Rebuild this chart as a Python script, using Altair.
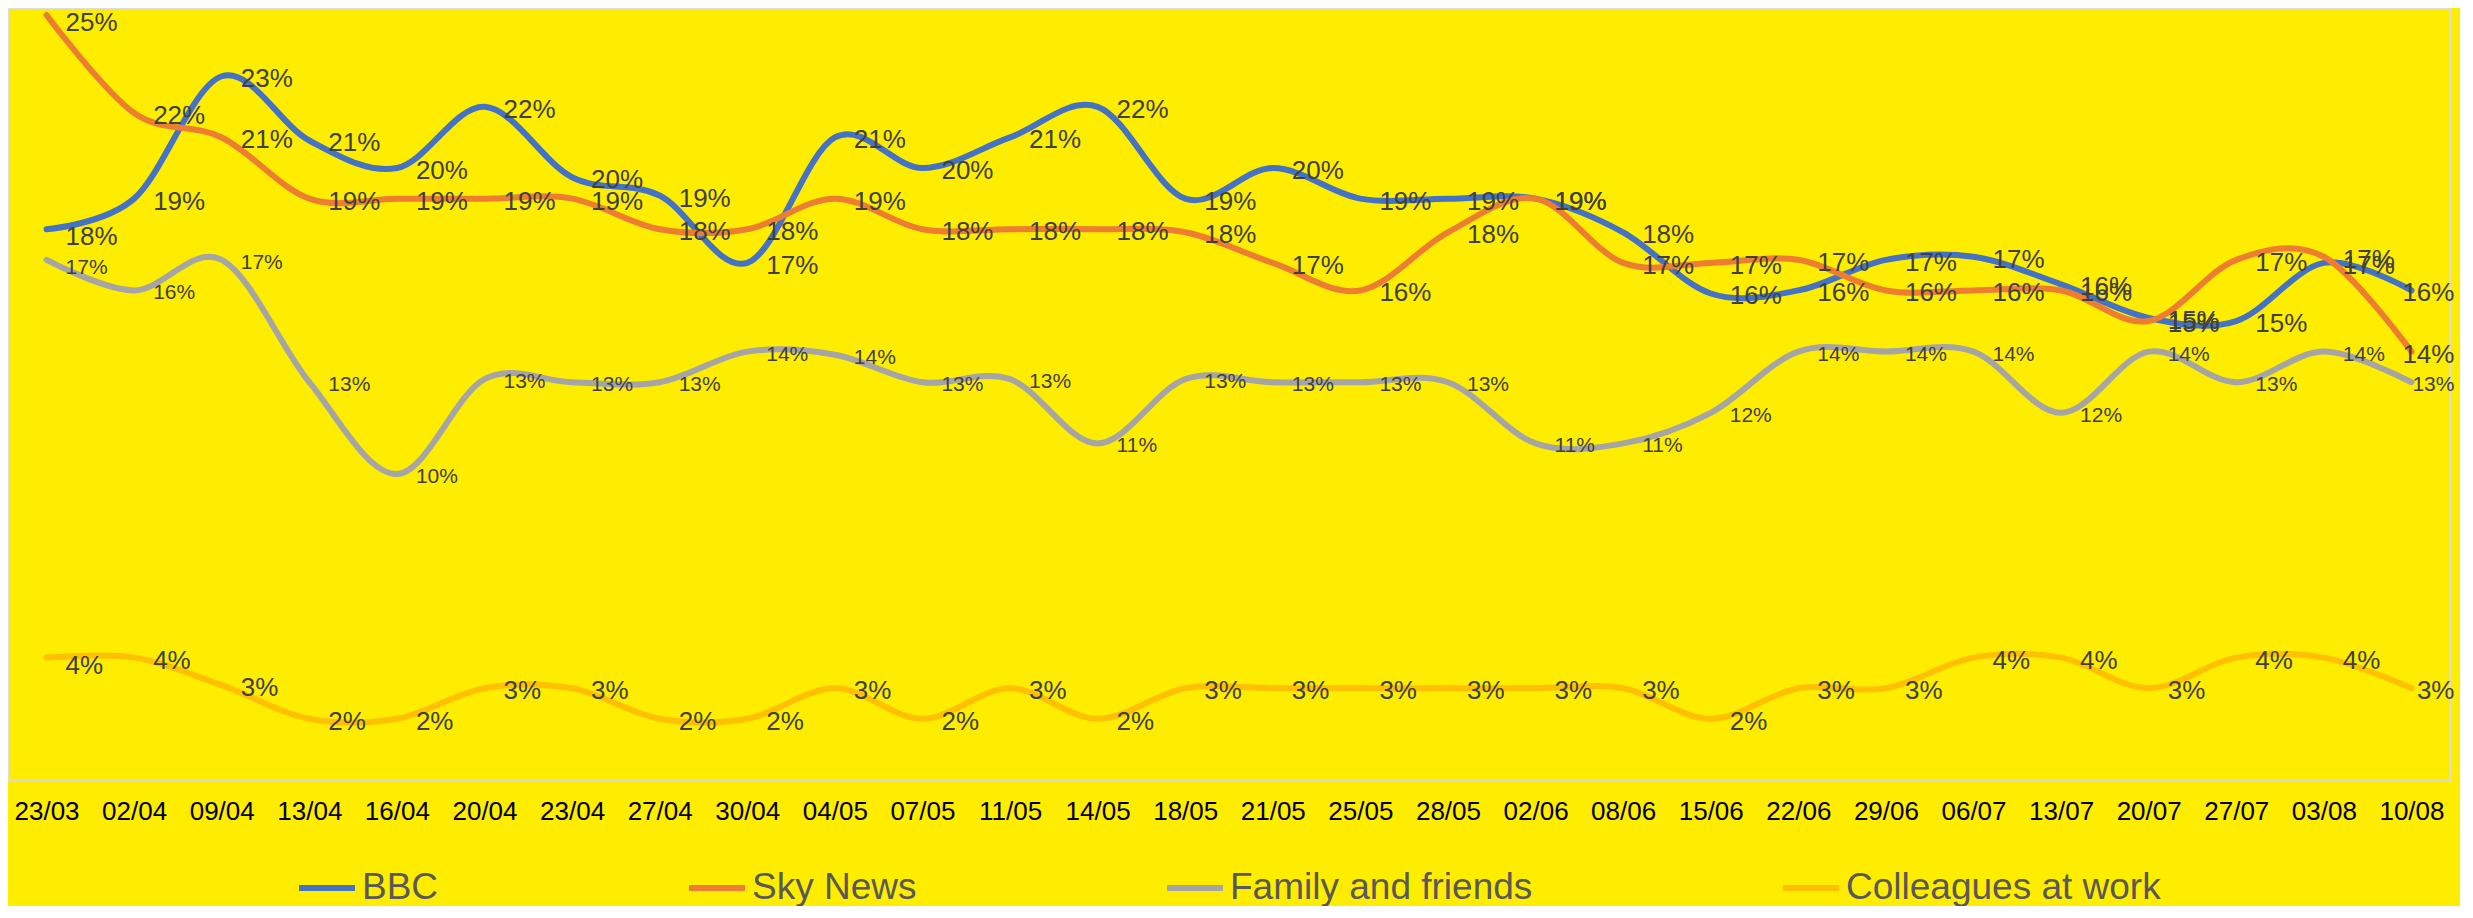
import altair as alt
import pandas as pd

categories = ["23/03", "02/04", "09/04", "13/04", "16/04", "20/04", "23/04", "27/04",
              "30/04", "04/05", "07/05", "11/05", "14/05", "18/05", "21/05", "25/05",
              "28/05", "02/06", "08/06", "15/06", "22/06", "29/06", "06/07", "13/07",
              "20/07", "27/07", "03/08", "10/08"]

series_names = ["BBC", "Sky News", "Family and friends", "Colleagues at work"]
series_colors = ["#4472C4", "#ED7D31", "#A5A5A5", "#FFC000"]

bbc = [18.0, 19.0, 23.0, 20.9, 20.0, 22.0, 19.7, 19.1, 16.9, 21.0, 20.0, 21.0, 22.0, 19.0,
       20.0, 19.0, 19.0, 19.0, 17.9, 15.9, 16.0, 17.0, 17.1, 16.2, 15.1, 15.0, 16.9, 16.0]
sky = [25.0, 21.8, 21.0, 19.0, 19.0, 19.0, 19.0, 18.0, 18.0, 19.0, 18.0, 18.0, 18.0, 17.9,
       16.9, 16.0, 17.9, 19.0, 16.9, 16.9, 17.0, 16.0, 16.0, 16.0, 15.0, 17.0, 17.1, 14.0]
family = [17.0, 16.0, 17.0, 13.0, 10.0, 13.1, 13.0, 13.0, 14.0, 13.9, 13.0, 13.1, 11.0, 13.1,
          13.0, 13.0, 13.0, 11.0, 11.0, 12.0, 14.0, 14.0, 14.0, 12.0, 14.0, 13.0, 14.0, 13.0]
colleagues = [4.0, 4.0, 3.1, 2.0, 2.0, 3.0, 3.0, 2.0, 2.0, 3.0, 2.0, 3.0, 2.0, 3.0,
              3.0, 3.0, 3.0, 3.0, 3.0, 2.0, 3.0, 3.0, 4.0, 4.0, 3.0, 4.0, 4.0, 3.0]

rows = []
for name, vals in zip(series_names, [bbc, sky, family, colleagues]):
    for i, (c, v) in enumerate(zip(categories, vals)):
        rows.append({"date": c, "idx": i, "series": name, "value": v})
df = pd.DataFrame(rows)

FONT = "Liberation Sans"
first_cat = categories[0]
last_cat = categories[-1]

x_enc = alt.X("date:N", sort=categories,
              scale=alt.Scale(type="point", padding=0.44),
              axis=alt.Axis(title=None, labelAngle=0, labelFontSize=26, labelColor="#000000",
                            labelFont=FONT, ticks=False, domainColor="#D9D9D9", domainWidth=2,
                            labelPadding=18, grid=False))
y_enc = alt.Y("value:Q", scale=alt.Scale(domain=[0, 25.23], nice=False, zero=True), axis=None)

base = alt.Chart(df)

lines = base.mark_line(interpolate="cardinal", strokeWidth=6, strokeCap="round").encode(
    x=x_enc,
    y=y_enc,
    color=alt.Color("series:N",
                    scale=alt.Scale(domain=series_names, range=series_colors),
                    sort=series_names,
                    legend=alt.Legend(title=None, orient="none", legendX=288, legendY=849,
                                      direction="horizontal", symbolType="stroke",
                                      symbolStrokeWidth=6, symbolSize=3136,
                                      labelFontSize=37, labelColor="#595959", labelFont=FONT,
                                      columnPadding=238, labelOffset=4, labelLimit=0,
                                      padding=0)),
    detail="series:N",
)

size_cond = alt.condition(alt.datum.series == "Family and friends", alt.value(21), alt.value(26))


def label_layer(flt, align, dx, dy):
    return base.transform_filter(flt).transform_calculate(
        label="format(datum.value, '.0f') + '%'"
    ).mark_text(align=align, baseline="middle", dx=dx, dy=dy, color="#404040", font=FONT).encode(
        x=x_enc, y=y_enc, text="label:N", size=size_cond
    )


labels_first = label_layer(alt.datum.date == first_cat, "left", 19, 8)
labels_mid = label_layer((alt.datum.date != first_cat) & (alt.datum.date != last_cat), "left", 19, 3)
labels_last = label_layer(alt.datum.date == last_cat, "right", 43, 3)

chart = alt.layer(lines, labels_first, labels_mid, labels_last).properties(
    width=2442, height=772,
    autosize=alt.AutoSizeParams(type="none"),
    padding={"left": 0, "top": 0, "right": 10, "bottom": 126},
    background="#FFED00",
).configure_view(stroke=None).configure(font=FONT)

chart.save("out.html", embed_options={"renderer": "svg", "actions": False})
